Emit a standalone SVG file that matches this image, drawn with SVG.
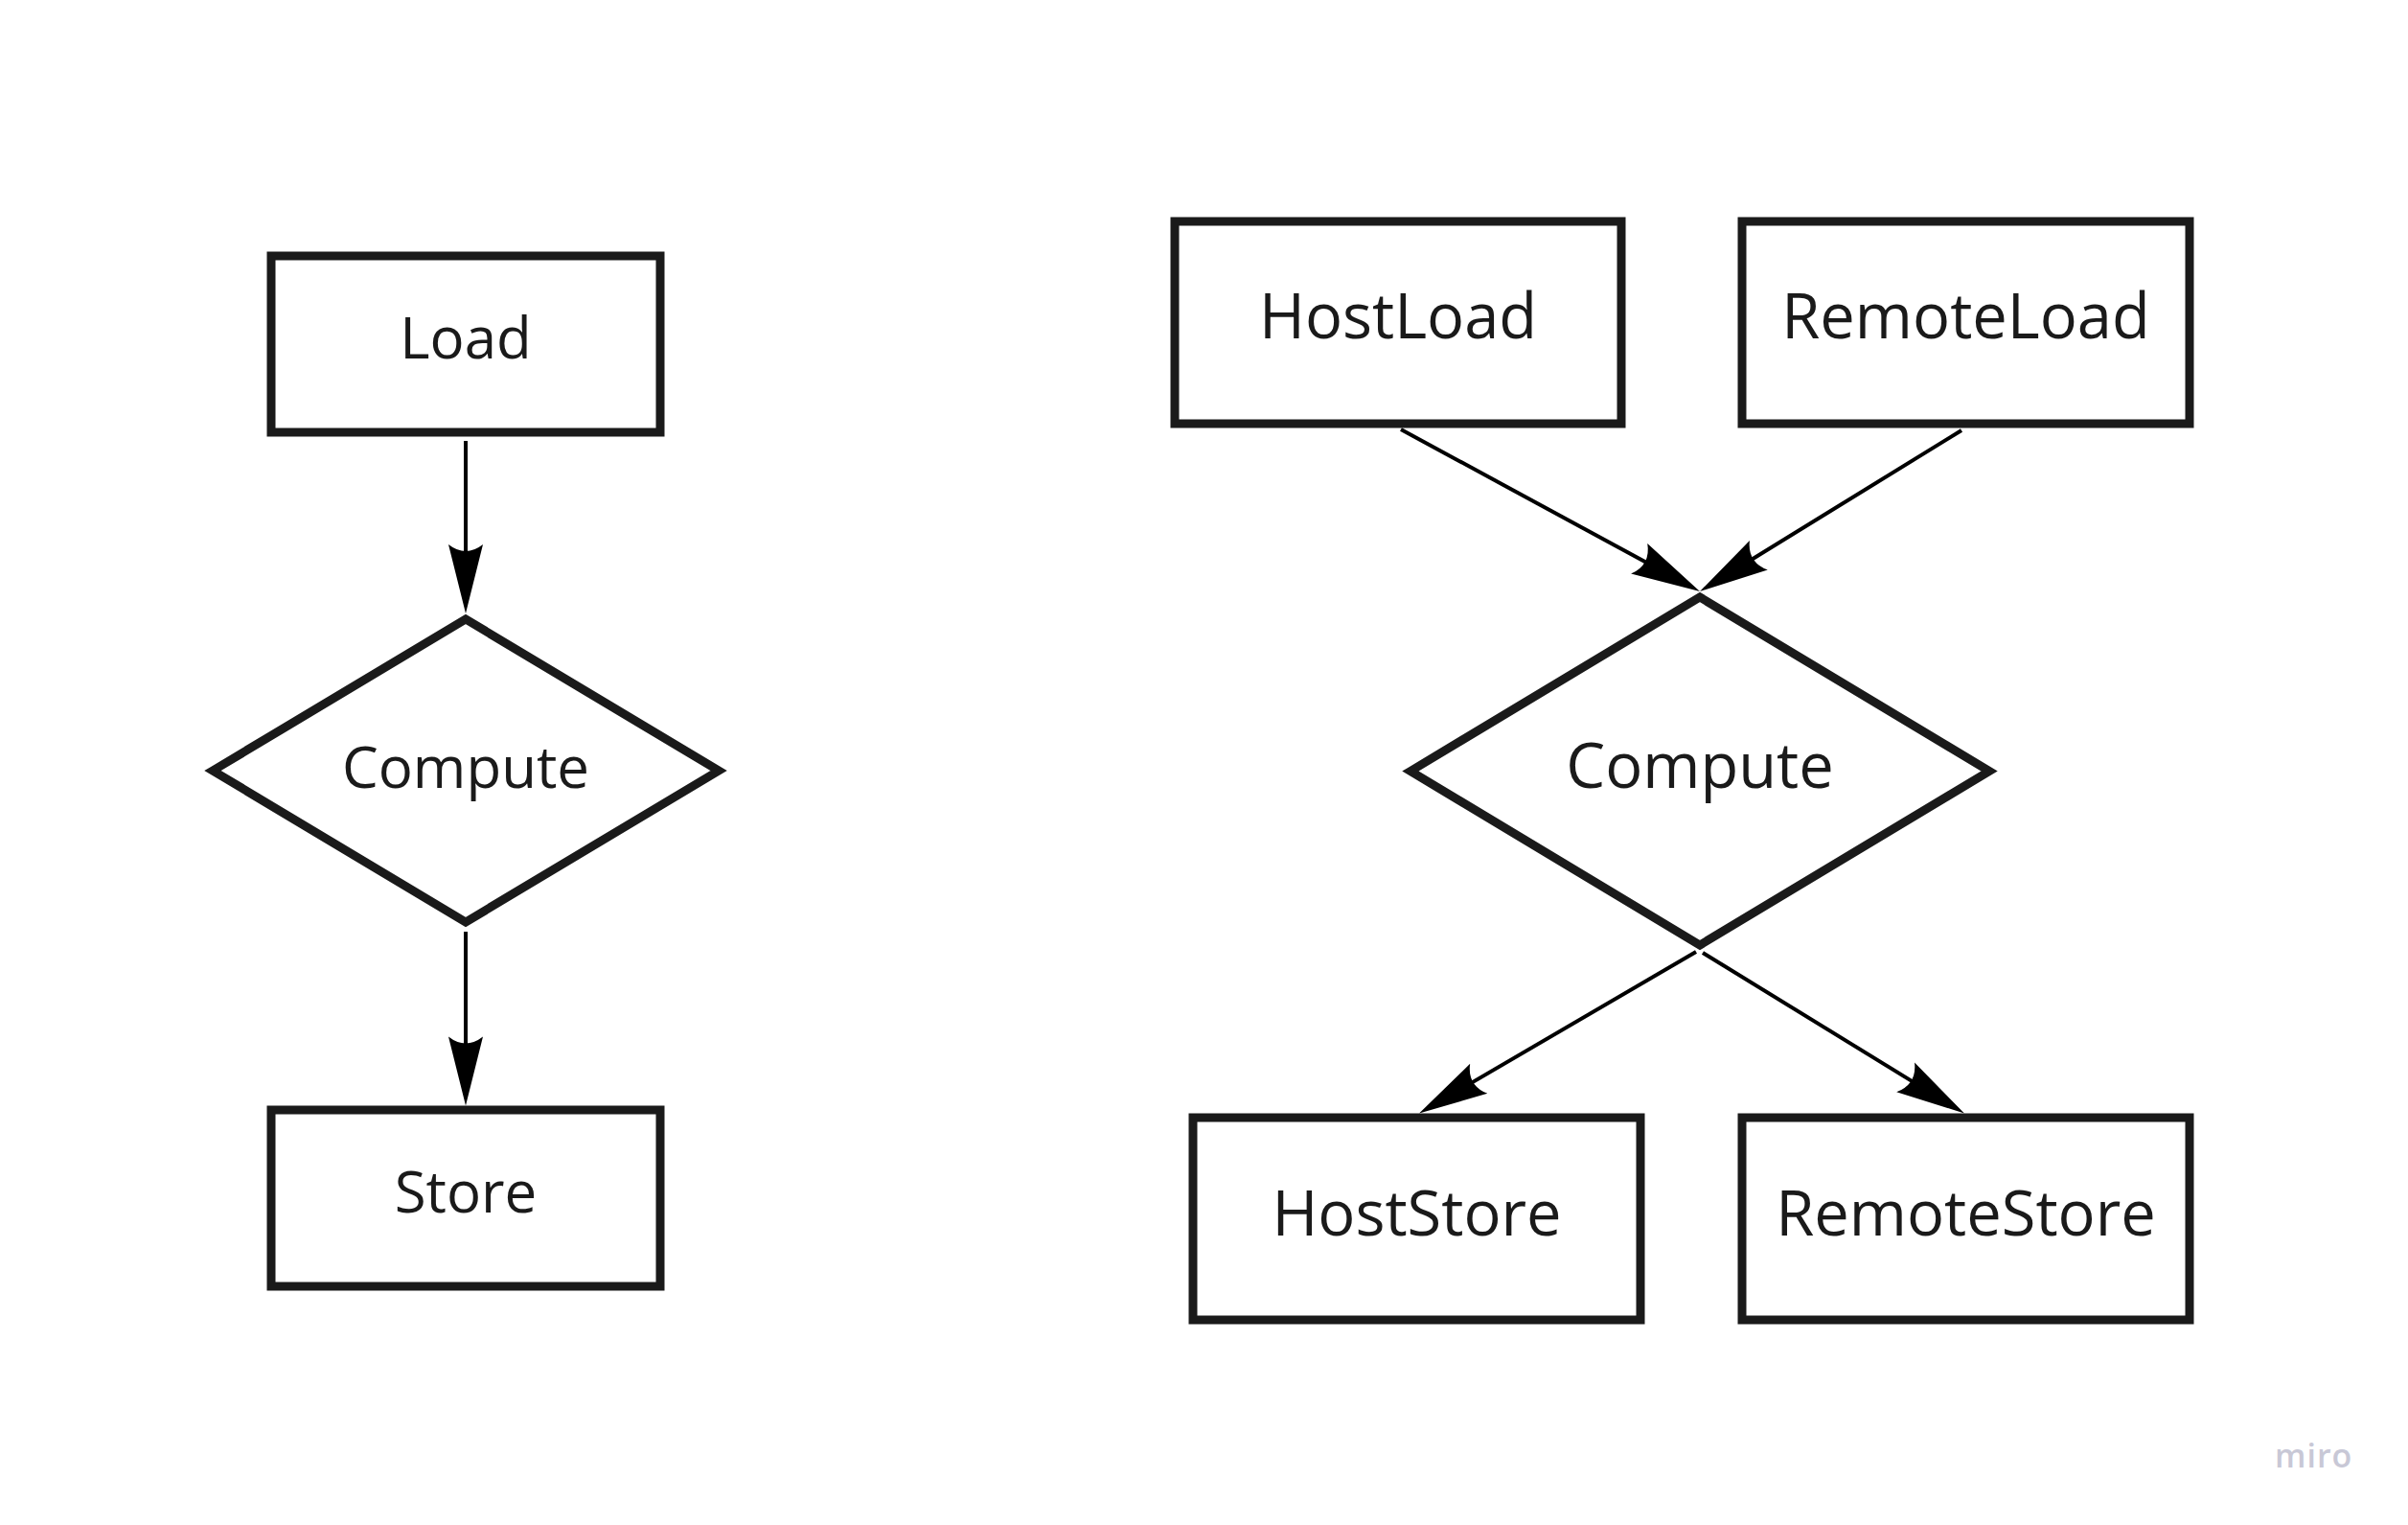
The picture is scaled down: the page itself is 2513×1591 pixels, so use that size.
<svg xmlns="http://www.w3.org/2000/svg" width="2513" height="1591" viewBox="0 0 2513 1591">
  <style>
    .shape { fill: #ffffff; stroke: #1a1a1a; stroke-width: 9; stroke-linejoin: miter; stroke-miterlimit: 10; }
    .lbl { font-family: "Open Sans", "Noto Sans", "Liberation Sans", sans-serif; fill: #1a1a1a; text-anchor: middle; }
    .s60 { font-size: 60px; }
    .s66 { font-size: 65px; }
    .conn { fill: none; stroke: #000000; stroke-width: 4; marker-end: url(#arrow); }
    .logo { font-family: "Open Sans", "Noto Sans", sans-serif; font-weight: 600; font-size: 34px; fill: #c8c8d6; letter-spacing: 1px; }
  </style>
  <defs>
    <marker id="arrow" markerUnits="userSpaceOnUse" orient="auto" markerWidth="120" markerHeight="60" refX="0" refY="0" viewBox="-40 -30 120 60" overflow="visible">
      <path d="M40,0 L-32,-18 Q-18,0 -32,18 Z" fill="#000000"/>
    </marker>
  </defs>
  <rect width="2513" height="1591" fill="#ffffff"/>

  <g id="connectors">
    <path class="conn" d="M486,460 L486,600"/>
    <path class="conn" d="M486,972 L486,1113.5"/>
    <path class="conn" d="M1462,448 L1738.8,598"/>
    <path class="conn" d="M2047,449 L1808.1,596"/>
    <path class="conn" d="M1770,993 L1515.6,1141.4"/>
    <path class="conn" d="M1777,994 L2015.9,1140.6"/>
  </g>

  <g id="load">
    <rect class="shape" x="283" y="267" width="406" height="184"/>
    <text class="lbl s60" x="486" y="374">Load</text>
  </g>
  <g id="compute-left">
    <polygon class="shape" points="222,804 486,646 750,804 486,962"/>
    <text class="lbl s60" x="486" y="822">Compute</text>
  </g>
  <g id="store">
    <rect class="shape" x="283" y="1158" width="406" height="184"/>
    <text class="lbl s60" x="486" y="1265">Store</text>
  </g>

  <g id="hostload">
    <rect class="shape" x="1226" y="231" width="466" height="211"/>
    <text class="lbl s66" x="1459" y="353">HostLoad</text>
  </g>
  <g id="remoteload">
    <rect class="shape" x="1818" y="231" width="467" height="211"/>
    <text class="lbl s66" x="2051.5" y="353">RemoteLoad</text>
  </g>
  <g id="compute-right">
    <polygon class="shape" points="1472,804.5 1774,623 2076,804.5 1774,986"/>
    <text class="lbl s66" x="1774" y="822">Compute</text>
  </g>
  <g id="hoststore">
    <rect class="shape" x="1245" y="1166" width="467" height="211"/>
    <text class="lbl s66" x="1478.5" y="1289">HostStore</text>
  </g>
  <g id="remotestore">
    <rect class="shape" x="1818" y="1166" width="467" height="211"/>
    <text class="lbl s66" x="2051.5" y="1289">RemoteStore</text>
  </g>

  <text class="logo" x="2374" y="1531">miro</text>
</svg>
